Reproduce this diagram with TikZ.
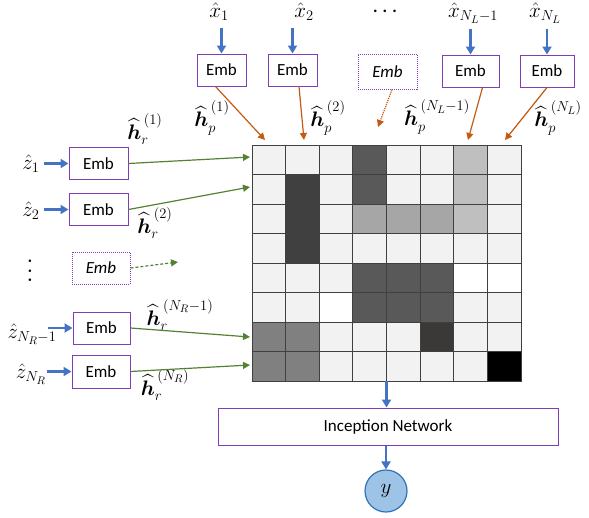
\RequirePackage{fix-cm}
\documentclass[tikz,border=0pt]{standalone}
\usepackage{fontspec}
\setmainfont{Carlito}
\usepackage{amsmath}
\usetikzlibrary{arrows.meta}
\usepackage{xcolor}
\DeclareMathSizes{17}{17}{12}{9}
\DeclareMathSizes{21}{21}{14.5}{11}

\definecolor{inblue}{HTML}{4472C4}
\definecolor{hporange}{HTML}{C55A11}
\definecolor{hrgreen}{HTML}{548235}
\definecolor{embpurple}{HTML}{7E3EB8}
\definecolor{outblue}{HTML}{2E75B6}
\definecolor{outfill}{HTML}{9DC3E6}
\definecolor{cellL}{HTML}{F2F2F2}
\definecolor{cellW}{HTML}{FFFFFF}
\definecolor{cellA}{HTML}{595959}
\definecolor{cellB}{HTML}{404040}
\definecolor{cellG}{HTML}{A6A6A6}
\definecolor{cellM}{HTML}{BFBFBF}
\definecolor{cellH}{HTML}{808080}
\definecolor{cellK}{HTML}{3B3838}
\definecolor{cellX}{HTML}{000000}

\tikzset{
  every node/.style={font=\fontsize{17}{20}\selectfont},
  mlabel/.style={font=\fontsize{21}{24}\selectfont, inner sep=1pt},
  emb/.style={draw=embpurple, line width=1pt, minimum width=57pt, minimum height=32pt, inner sep=0pt},
  embdot/.style={emb, densely dotted},
  inarr/.style={draw=inblue, line width=2.6pt, -{Triangle[length=8pt,width=9pt]}},
  hparr/.style={draw=hporange, line width=1.2pt, -{Triangle[length=7pt,width=7pt]}},
  hrarr/.style={draw=hrgreen, line width=1.2pt, -{Triangle[length=7pt,width=7pt]}},
  gridline/.style={draw=black!75, line width=0.9pt}
}

\begin{document}
\begin{tikzpicture}[x=1pt,y=-1pt]
\useasboundingbox (0,0) rectangle (589,517);

% interaction map
\node[minimum width=269pt, minimum height=236pt, inner sep=0pt] (mat) at (386.5,263) {};
\foreach \row [count=\r] in {{L,L,L,A,L,L,M,L},{L,B,L,A,L,L,M,L},{L,B,L,G,G,G,M,L},{L,B,L,L,L,L,L,L},
                             {L,L,L,A,A,A,W,W},{L,L,W,A,A,A,L,L},{H,H,L,L,L,K,L,L},{H,H,L,L,L,L,L,X}}
  \foreach \c [count=\k] in \row
    \fill[cell\c] ({252+(\k-1)*33.6},{145+(\r-1)*29.5}) rectangle ++(33.6,29.5);
\foreach \i in {1,...,7} {
  \draw[gridline] ({252+\i*33.6},145) -- ({252+\i*33.6},381);
  \draw[gridline] (252,{145+\i*29.5}) -- (521,{145+\i*29.5});
}
\draw[gridline] (252,145) rectangle (521,381);

% top: protein side
\node[mlabel] (x1) at (219,12) {$\hat{x}_1$};
\node[mlabel] (x2) at (304,12) {$\hat{x}_2$};
\node (xdots) at (385,11) {\textbf{. . .}};
\node[mlabel] (xn1) at (473,13) {$\hat{x}_{N_L-1}$};
\node[mlabel] (xn) at (545,13) {$\hat{x}_{N_L}$};

\node[emb, minimum width=49pt] (pe1) at (221.5,70) {Emb};
\node[emb, minimum width=49pt] (pe2) at (292.5,70) {Emb};
\node[embdot, minimum width=59pt, minimum height=35pt] (pedot) at (387.5,71.5) {\textit{Emb}};
\node[emb] (pen1) at (470.5,71) {Emb};
\node[emb, minimum width=54pt] (pen) at (547,71) {Emb};

\foreach \n in {pe1,pe2,pen1,pen}
  \draw[inarr] ([yshift=26pt]\n.north) -- (\n.north);

\node[mlabel] (hp1) at (212,118) {$\widehat{\boldsymbol{h}}_{p}^{\,(1)}$};
\node[mlabel] (hp2) at (328,118) {$\widehat{\boldsymbol{h}}_{p}^{\,(2)}$};
\node[mlabel] (hpn1) at (437,117) {$\widehat{\boldsymbol{h}}_{p}^{\,(N_L-1)}$};
\node[mlabel] (hpn) at (558,118) {$\widehat{\boldsymbol{h}}_{p}^{\,(N_L)}$};

\coordinate (p1) at (265,140);
\coordinate (p2) at (304,140);
\coordinate (pdot) at (378,127);
\coordinate (pn1) at (468,140);
\coordinate (pn) at (505,140);
\draw[hparr] ([xshift=-6pt]pe1.south) -- (p1);
\draw[hparr] ([xshift=6.5pt]pe2.south) -- (p2);
\draw[hparr, densely dotted] ([xshift=4.5pt]pedot.south) -- (pdot);
\draw[hparr] ([xshift=12pt]pen1.south) -- (pn1);
\draw[hparr] (pen.south) -- (pn);

% left: compound side
\node[mlabel] (z1) at (31,164) {$\hat{z}_1$};
\node[mlabel] (z2) at (31,211) {$\hat{z}_2$};
\node[rotate=90] (zdots) at (30,271) {\textbf{. . .}};
\node[mlabel] (zn1) at (32,334) {$\hat{z}_{N_R-1}$};
\node[mlabel] (zn) at (31,374) {$\hat{z}_{N_R}$};

\node[emb, minimum width=59pt] (re1) at (98.5,163.5) {Emb};
\node[emb, minimum width=59pt] (re2) at (98.5,209.5) {Emb};
\node[embdot, minimum width=58pt] (redot) at (101,268) {\textit{Emb}};
\node[emb] (ren1) at (101.5,328) {Emb};
\node[emb, minimum width=58pt, minimum height=33pt] (ren) at (101,371.5) {Emb};

\foreach \n in {re1,re2,ren1,ren}
  \draw[inarr] ([xshift=-25pt]\n.west) -- (\n.west);

\node[mlabel] (hr1) at (145,129) {$\widehat{\boldsymbol{h}}_{r}^{\,(1)}$};
\node[mlabel] (hr2) at (155,223) {$\widehat{\boldsymbol{h}}_{r}^{\,(2)}$};
\node[mlabel] (hrn1) at (180,315) {$\widehat{\boldsymbol{h}}_{r}^{\,(N_R-1)}$};
\node[mlabel] (hrn) at (165,385) {$\widehat{\boldsymbol{h}}_{r}^{\,(N_R)}$};

\coordinate (r1) at (250,157);
\coordinate (r2) at (250,187);
\coordinate (rdot) at (178,262);
\coordinate (rn1) at (250,337);
\coordinate (rn) at (250,365);
\draw[hrarr] (re1.east) -- (r1);
\draw[hrarr] (re2.east) -- (r2);
\draw[hrarr, densely dashed] (redot.east) -- (rdot);
\draw[hrarr] (ren1.east) -- (rn1);
\draw[hrarr] (ren.east) -- (rn);

% bottom: prediction
\node[emb, minimum width=340pt, minimum height=37pt] (inc) at (388,426.5) {Inception Network};
\node[circle, draw=outblue, fill=outfill, line width=1.2pt, minimum size=42pt, inner sep=0pt, font=\fontsize{21}{24}\selectfont] (y) at (386,491) {$y$};
\draw[inarr] (mat.south) -- (inc.north -| mat.south);
\draw[inarr] (inc.south -| y.north) -- (y.north);
\end{tikzpicture}
\end{document}
